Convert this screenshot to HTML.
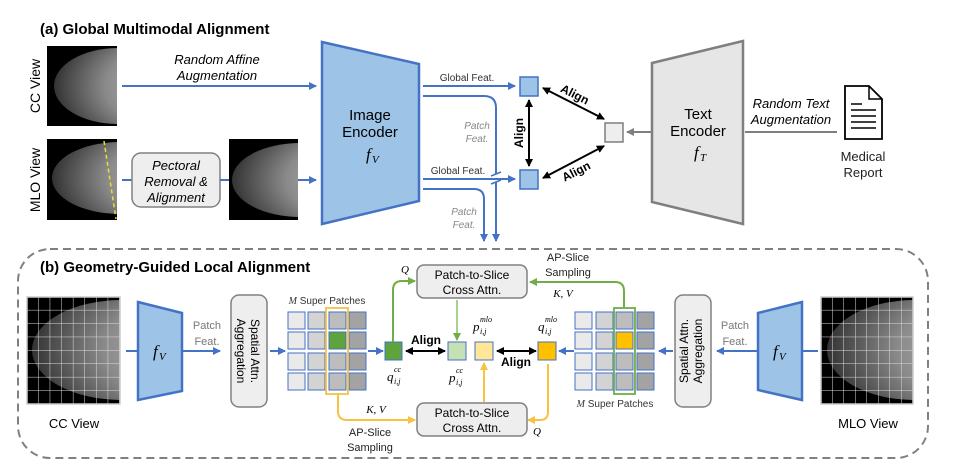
<!DOCTYPE html>
<html><head><meta charset="utf-8"><style>
html,body{margin:0;padding:0;background:#fff}
svg{display:block}
text{font-family:"Liberation Sans",sans-serif}
.m{font-family:"Liberation Serif",serif;font-style:italic}
</style></head><body>
<svg width="975" height="467" viewBox="0 0 975 467" xmlns="http://www.w3.org/2000/svg">
<defs>
<marker id="ab" markerWidth="8" markerHeight="8" refX="7" refY="4" orient="auto" markerUnits="userSpaceOnUse"><path d="M0,0 L8,4 L0,8 z" fill="#4472c4"/></marker>
<marker id="ak" markerWidth="8" markerHeight="8" refX="7" refY="4" orient="auto-start-reverse" markerUnits="userSpaceOnUse"><path d="M0,0 L8,4 L0,8 z" fill="#000"/></marker>
<marker id="ag" markerWidth="8" markerHeight="8" refX="7" refY="4" orient="auto" markerUnits="userSpaceOnUse"><path d="M0,0 L8,4 L0,8 z" fill="#70ad47"/></marker>
<marker id="ay" markerWidth="8" markerHeight="8" refX="7" refY="4" orient="auto" markerUnits="userSpaceOnUse"><path d="M0,0 L8,4 L0,8 z" fill="#f5c242"/></marker>
<marker id="agr" markerWidth="8" markerHeight="8" refX="7" refY="4" orient="auto" markerUnits="userSpaceOnUse"><path d="M0,0 L8,4 L0,8 z" fill="#7f7f7f"/></marker>
<radialGradient id="br" cx="1" cy="0.5" r="1"><stop offset="0" stop-color="#c8c8c8"/><stop offset="0.6" stop-color="#8a8a8a"/><stop offset="0.9" stop-color="#4a4a4a"/><stop offset="1" stop-color="#333"/></radialGradient>
<pattern id="grid" x="27" y="297" width="11.6" height="13.4" patternUnits="userSpaceOnUse"><path d="M11.6,0 V13.4 H0" fill="none" stroke="#ddd" stroke-width="1"/></pattern>
<pattern id="grid2" x="821" y="297" width="11.5" height="13.4" patternUnits="userSpaceOnUse"><path d="M11.5,0 V13.4 H0" fill="none" stroke="#ddd" stroke-width="1"/></pattern>
<clipPath id="c1"><rect x="47" y="46" width="70" height="80"/></clipPath>
<clipPath id="c2"><rect x="47" y="139" width="70" height="81"/></clipPath>
<clipPath id="c3"><rect x="229" y="139" width="69" height="81"/></clipPath>
<clipPath id="c4"><rect x="27" y="297" width="93" height="107"/></clipPath>
<clipPath id="c5"><rect x="821" y="297" width="92" height="107"/></clipPath>
</defs>

<!-- (a) -->
<text x="40" y="34" font-size="15" font-weight="bold">(a) Global Multimodal Alignment</text>
<rect x="47" y="46" width="70" height="80" fill="#000"/>
<ellipse cx="118" cy="86" rx="64" ry="38" fill="url(#br)" clip-path="url(#c1)"/>
<rect x="47" y="139" width="70" height="81" fill="#000"/>
<ellipse cx="120" cy="178" rx="68" ry="36" fill="url(#br)" clip-path="url(#c2)"/>
<line x1="104" y1="141" x2="116" y2="219" stroke="#e8e030" stroke-width="1.5" stroke-dasharray="4,3"/>
<text transform="translate(40,86) rotate(-90)" font-size="14" text-anchor="middle">CC View</text>
<text transform="translate(40,180) rotate(-90)" font-size="14" text-anchor="middle">MLO View</text>
<line x1="122" y1="86" x2="316" y2="86" stroke="#4472c4" stroke-width="2" marker-end="url(#ab)"/>
<text x="217" y="64" font-size="13" font-style="italic" text-anchor="middle">Random Affine</text>
<text x="217" y="80" font-size="13" font-style="italic" text-anchor="middle">Augmentation</text>
<line x1="122" y1="180" x2="132" y2="180" stroke="#4472c4" stroke-width="2"/>
<rect x="132" y="153" width="88" height="54" rx="9" fill="#eee" stroke="#808080" stroke-width="1.5"/>
<text x="176" y="170" font-size="13" font-style="italic" text-anchor="middle">Pectoral</text>
<text x="176" y="186" font-size="13" font-style="italic" text-anchor="middle">Removal &amp;</text>
<text x="176" y="202" font-size="13" font-style="italic" text-anchor="middle">Alignment</text>
<line x1="220" y1="180" x2="229" y2="180" stroke="#4472c4" stroke-width="2"/>
<rect x="229" y="139" width="69" height="81" fill="#000"/>
<ellipse cx="300" cy="180" rx="68" ry="37" fill="url(#br)" clip-path="url(#c3)"/>
<line x1="298" y1="180" x2="316" y2="180" stroke="#4472c4" stroke-width="2" marker-end="url(#ab)"/>
<polygon points="322,42 419,64 419,201 322,224" fill="#9dc3e6" stroke="#4472c4" stroke-width="2.5"/>
<text x="370" y="120" font-size="15" text-anchor="middle">Image</text>
<text x="370" y="137" font-size="15" text-anchor="middle">Encoder</text>
<text x="366" y="160" font-size="17" class="m">f</text><text x="372" y="163" font-size="11" class="m">V</text>

<line x1="423" y1="86" x2="515" y2="86" stroke="#4472c4" stroke-width="2" marker-end="url(#ab)"/>
<text x="467" y="81" font-size="10" text-anchor="middle" fill="#333">Global Feat.</text>
<path d="M423,96 H484 Q496,96 496,108 V174 M496,182 V241" fill="none" stroke="#4472c4" stroke-width="2" marker-end="url(#ab)"/>
<line x1="491" y1="176" x2="501" y2="172" stroke="#4472c4" stroke-width="1.5"/>
<line x1="491" y1="184" x2="501" y2="180" stroke="#4472c4" stroke-width="1.5"/>
<text x="477" y="129" font-size="10" font-style="italic" fill="#888" text-anchor="middle">Patch</text>
<text x="477" y="142" font-size="10" font-style="italic" fill="#888" text-anchor="middle">Feat.</text>
<line x1="423" y1="179" x2="515" y2="179" stroke="#4472c4" stroke-width="2" marker-end="url(#ab)"/>
<text x="458" y="174" font-size="10" text-anchor="middle" fill="#333">Global Feat.</text>
<path d="M423,189 H474 Q484,189 484,199 V241" fill="none" stroke="#4472c4" stroke-width="2" marker-end="url(#ab)"/>
<text x="464" y="215" font-size="10" font-style="italic" fill="#888" text-anchor="middle">Patch</text>
<text x="464" y="228" font-size="10" font-style="italic" fill="#888" text-anchor="middle">Feat.</text>

<rect x="520" y="77" width="18" height="19" fill="#9dc3e6" stroke="#4472c4" stroke-width="1.5"/>
<rect x="520" y="170" width="18" height="19" fill="#9dc3e6" stroke="#4472c4" stroke-width="1.5"/>
<rect x="605" y="123" width="18" height="19" fill="#eee" stroke="#7f7f7f" stroke-width="1.5"/>
<line x1="529" y1="100" x2="529" y2="166" stroke="#000" stroke-width="2" marker-start="url(#ak)" marker-end="url(#ak)"/>
<text transform="translate(523,133) rotate(-90)" font-size="12" font-weight="bold" text-anchor="middle">Align</text>
<line x1="543" y1="88" x2="604" y2="119" stroke="#000" stroke-width="2" marker-start="url(#ak)" marker-end="url(#ak)"/>
<text transform="translate(573,98) rotate(27)" font-size="12" font-weight="bold" text-anchor="middle">Align</text>
<line x1="543" y1="178" x2="604" y2="146" stroke="#000" stroke-width="2" marker-start="url(#ak)" marker-end="url(#ak)"/>
<text transform="translate(578,175) rotate(-27)" font-size="12" font-weight="bold" text-anchor="middle">Align</text>

<polygon points="652,63 743,41 743,224 652,202" fill="#e7e6e6" stroke="#7f7f7f" stroke-width="2.5"/>
<text x="698" y="119" font-size="15" text-anchor="middle">Text</text>
<text x="698" y="136" font-size="15" text-anchor="middle">Encoder</text>
<text x="694" y="158" font-size="17" class="m">f</text><text x="700" y="161" font-size="11" class="m">T</text>
<line x1="652" y1="132" x2="627" y2="132" stroke="#7f7f7f" stroke-width="2" marker-end="url(#agr)"/>
<line x1="745" y1="132" x2="837" y2="132" stroke="#7f7f7f" stroke-width="2"/>
<text x="791" y="108" font-size="13" font-style="italic" text-anchor="middle">Random Text</text>
<text x="791" y="124" font-size="13" font-style="italic" text-anchor="middle">Augmentation</text>
<path d="M845,86 H869 L882,99 V139 H845 Z" fill="#fff" stroke="#000" stroke-width="1.8"/>
<path d="M869,86 V99 H882" fill="none" stroke="#000" stroke-width="1.5"/>
<g stroke="#000" stroke-width="1.5"><line x1="851" y1="104" x2="862" y2="104"/><line x1="851" y1="110" x2="876" y2="110"/><line x1="851" y1="116" x2="876" y2="116"/><line x1="851" y1="122" x2="876" y2="122"/><line x1="851" y1="128" x2="876" y2="128"/></g>
<text x="863" y="161" font-size="13" text-anchor="middle" fill="#222">Medical</text>
<text x="863" y="177" font-size="13" text-anchor="middle" fill="#222">Report</text>

<!-- (b) -->
<rect x="18" y="249" width="910" height="209" rx="32" fill="none" stroke="#808080" stroke-width="2" stroke-dasharray="8,5"/>
<text x="40" y="272" font-size="15" font-weight="bold">(b) Geometry-Guided Local Alignment</text>

<rect x="27" y="297" width="93" height="107" fill="#000"/>
<ellipse cx="122" cy="350" rx="90" ry="50" fill="url(#br)" clip-path="url(#c4)"/>
<rect x="27" y="297" width="93" height="107" fill="url(#grid)" stroke="#ccc" stroke-width="1.5"/>
<text x="74" y="428" font-size="13" text-anchor="middle">CC View</text>
<line x1="126" y1="351" x2="137" y2="351" stroke="#4472c4" stroke-width="2"/>
<polygon points="138,302 182,313 182,391 138,400" fill="#9dc3e6" stroke="#4472c4" stroke-width="2.5"/>
<text x="153" y="357" font-size="17" class="m">f</text><text x="159" y="360" font-size="11" class="m">V</text>
<line x1="183" y1="351" x2="220" y2="351" stroke="#4472c4" stroke-width="2" marker-end="url(#ab)"/>
<text x="207" y="329" font-size="11" fill="#777" text-anchor="middle">Patch</text>
<text x="207" y="345" font-size="11" fill="#777" text-anchor="middle">Feat.</text>
<rect x="231" y="295" width="36" height="112" rx="8" fill="#eee" stroke="#808080" stroke-width="1.5"/>
<text transform="translate(251,351) rotate(90)" font-size="12" text-anchor="middle">Spatial Attn.</text>
<text transform="translate(237,351) rotate(90)" font-size="12" text-anchor="middle">Aggregation</text>
<line x1="270" y1="351" x2="285" y2="351" stroke="#4472c4" stroke-width="2" marker-end="url(#ab)"/>
<text x="327" y="304" font-size="10" text-anchor="middle" fill="#333"><tspan class="m">M</tspan> Super Patches</text>
<g stroke="#4472c4" stroke-width="1">
<g fill="#eaeaea"><rect x="288" y="312" width="17" height="17"/><rect x="288" y="332" width="17" height="17"/><rect x="288" y="353" width="17" height="17"/><rect x="288" y="373" width="17" height="17"/></g>
<g fill="#d3d3d3"><rect x="308" y="312" width="17" height="17"/><rect x="308" y="332" width="17" height="17"/><rect x="308" y="353" width="17" height="17"/><rect x="308" y="373" width="17" height="17"/></g>
<g fill="#bdbdbd"><rect x="329" y="312" width="17" height="17"/><rect x="329" y="332" width="17" height="17" fill="#5ea33b"/><rect x="329" y="353" width="17" height="17"/><rect x="329" y="373" width="17" height="17"/></g>
<g fill="#a3a3a3"><rect x="349" y="312" width="17" height="17"/><rect x="349" y="332" width="17" height="17"/><rect x="349" y="353" width="17" height="17"/><rect x="349" y="373" width="17" height="17"/></g>
</g>
<rect x="326" y="308" width="22" height="86" fill="none" stroke="#f5c242" stroke-width="1.8"/>
<line x1="368" y1="351" x2="383" y2="351" stroke="#4472c4" stroke-width="2" marker-end="url(#ab)"/>
<rect x="385" y="342" width="17" height="18" fill="#5ea33b" stroke="#4472c4" stroke-width="1"/>
<text x="387" y="381" font-size="13" class="m">q</text><text x="394" y="372" font-size="8" class="m">cc</text><text x="394" y="384" font-size="8" class="m">i,j</text>
<path d="M393,342 V290 Q393,281 402,281 H415" fill="none" stroke="#70ad47" stroke-width="2" marker-end="url(#ag)"/>
<text x="405" y="273" font-size="11" class="m" text-anchor="middle">Q</text>
<rect x="417" y="265" width="110" height="33" rx="7" fill="#eee" stroke="#808080" stroke-width="1.5"/>
<text x="472" y="279" font-size="12" text-anchor="middle">Patch-to-Slice</text>
<text x="472" y="294" font-size="12" text-anchor="middle">Cross Attn.</text>
<line x1="457" y1="300" x2="457" y2="340" stroke="#a9d18e" stroke-width="2" marker-end="url(#ag)"/>
<line x1="406" y1="351" x2="445" y2="351" stroke="#000" stroke-width="2" marker-start="url(#ak)" marker-end="url(#ak)"/>
<text x="426" y="344" font-size="12" font-weight="bold" text-anchor="middle">Align</text>
<rect x="448" y="342" width="18" height="18" fill="#c5e0b4" stroke="#4472c4" stroke-width="1"/>
<text x="449" y="382" font-size="13" class="m">p</text><text x="456" y="373" font-size="8" class="m">cc</text><text x="456" y="385" font-size="8" class="m">i,j</text>
<rect x="475" y="342" width="18" height="18" fill="#ffe699" stroke="#4472c4" stroke-width="1"/>
<text x="473" y="331" font-size="13" class="m">p</text><text x="480" y="322" font-size="8" class="m">mlo</text><text x="480" y="334" font-size="8" class="m">i,j</text>
<line x1="484" y1="402" x2="484" y2="363" stroke="#f5c242" stroke-width="2" marker-end="url(#ay)"/>
<line x1="497" y1="351" x2="536" y2="351" stroke="#000" stroke-width="2" marker-start="url(#ak)" marker-end="url(#ak)"/>
<text x="516" y="366" font-size="12" font-weight="bold" text-anchor="middle">Align</text>
<rect x="538" y="342" width="18" height="18" fill="#ffc000" stroke="#4472c4" stroke-width="1"/>
<text x="538" y="331" font-size="13" class="m">q</text><text x="545" y="322" font-size="8" class="m">mlo</text><text x="545" y="334" font-size="8" class="m">i,j</text>
<path d="M548,364 V412 Q548,420 540,420 H528" fill="none" stroke="#f5c242" stroke-width="2" marker-end="url(#ay)"/>
<text x="537" y="435" font-size="11" class="m" text-anchor="middle">Q</text>
<rect x="417" y="403" width="110" height="33" rx="7" fill="#eee" stroke="#808080" stroke-width="1.5"/>
<text x="472" y="417" font-size="12" text-anchor="middle">Patch-to-Slice</text>
<text x="472" y="432" font-size="12" text-anchor="middle">Cross Attn.</text>
<path d="M338,394 V411 Q338,420 347,420 H415" fill="none" stroke="#f5c242" stroke-width="2" marker-end="url(#ay)"/>
<text x="376" y="413" font-size="11" class="m" text-anchor="middle">K, V</text>
<text x="370" y="436" font-size="11" text-anchor="middle" fill="#222">AP-Slice</text>
<text x="370" y="451" font-size="11" text-anchor="middle" fill="#222">Sampling</text>

<path d="M624,308 V291 Q624,282 615,282 H530" fill="none" stroke="#70ad47" stroke-width="2" marker-end="url(#ag)"/>
<text x="568" y="261" font-size="11" text-anchor="middle" fill="#222">AP-Slice</text>
<text x="568" y="276" font-size="11" text-anchor="middle" fill="#222">Sampling</text>
<text x="563" y="297" font-size="11" class="m" text-anchor="middle">K, V</text>
<g stroke="#4472c4" stroke-width="1">
<g fill="#eaeaea"><rect x="575" y="312" width="17" height="17"/><rect x="575" y="332" width="17" height="17"/><rect x="575" y="353" width="17" height="17"/><rect x="575" y="373" width="17" height="17"/></g>
<g fill="#d3d3d3"><rect x="596" y="312" width="17" height="17"/><rect x="596" y="332" width="17" height="17"/><rect x="596" y="353" width="17" height="17"/><rect x="596" y="373" width="17" height="17"/></g>
<g fill="#bdbdbd"><rect x="616" y="312" width="17" height="17"/><rect x="616" y="332" width="17" height="17" fill="#ffc000"/><rect x="616" y="353" width="17" height="17"/><rect x="616" y="373" width="17" height="17"/></g>
<g fill="#a3a3a3"><rect x="637" y="312" width="17" height="17"/><rect x="637" y="332" width="17" height="17"/><rect x="637" y="353" width="17" height="17"/><rect x="637" y="373" width="17" height="17"/></g>
</g>
<rect x="614" y="308" width="21" height="86" fill="none" stroke="#70ad47" stroke-width="1.8"/>
<text x="615" y="407" font-size="10" text-anchor="middle" fill="#333"><tspan class="m">M</tspan> Super Patches</text>
<line x1="574" y1="351" x2="559" y2="351" stroke="#4472c4" stroke-width="2" marker-end="url(#ab)"/>
<line x1="673" y1="351" x2="659" y2="351" stroke="#4472c4" stroke-width="2" marker-end="url(#ab)"/>
<rect x="675" y="295" width="36" height="112" rx="8" fill="#eee" stroke="#808080" stroke-width="1.5"/>
<text transform="translate(688,351) rotate(-90)" font-size="12" text-anchor="middle">Spatial Attn.</text>
<text transform="translate(702,351) rotate(-90)" font-size="12" text-anchor="middle">Aggregation</text>
<line x1="758" y1="351" x2="717" y2="351" stroke="#4472c4" stroke-width="2" marker-end="url(#ab)"/>
<text x="735" y="329" font-size="11" fill="#777" text-anchor="middle">Patch</text>
<text x="735" y="345" font-size="11" fill="#777" text-anchor="middle">Feat.</text>
<polygon points="758,313 802,302 802,400 758,390" fill="#9dc3e6" stroke="#4472c4" stroke-width="2.5"/>
<text x="773" y="357" font-size="17" class="m">f</text><text x="779" y="360" font-size="11" class="m">V</text>
<line x1="803" y1="351" x2="818" y2="351" stroke="#4472c4" stroke-width="2"/>
<rect x="821" y="297" width="92" height="107" fill="#000"/>
<ellipse cx="915" cy="350" rx="88" ry="50" fill="url(#br)" clip-path="url(#c5)"/>
<rect x="821" y="297" width="92" height="107" fill="url(#grid2)" stroke="#ccc" stroke-width="1.5"/>
<text x="868" y="428" font-size="13" text-anchor="middle">MLO View</text>
</svg>
</body></html>
